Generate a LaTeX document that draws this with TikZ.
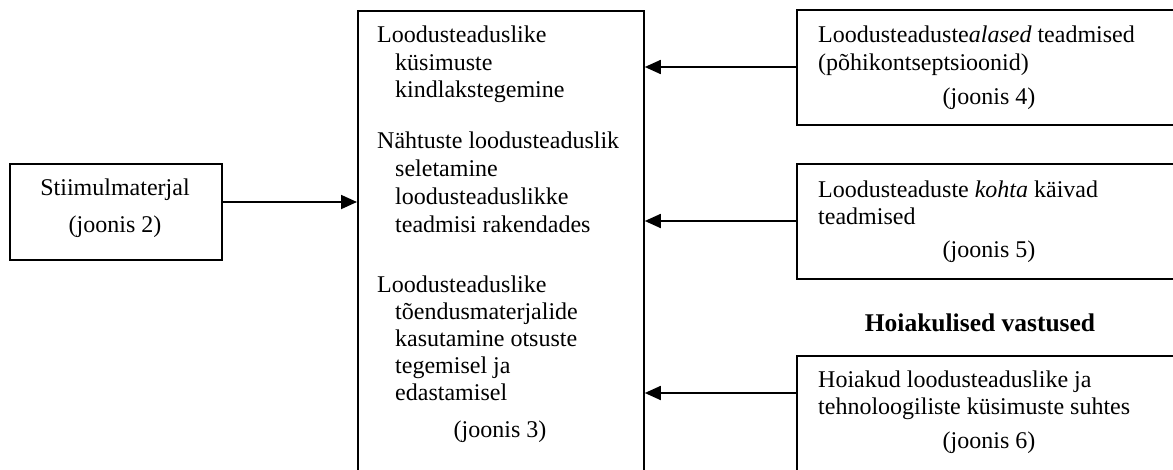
\documentclass[tikz,border=0pt]{standalone}
\usepackage{fontspec}
\setmainfont{Liberation Serif}
\usetikzlibrary{arrows.meta}
\tikzset{
  box/.style={draw, line width=1.8pt, rectangle, inner sep=0pt, anchor=north west},
  arr/.style={line width=1.8pt, -{Triangle[length=16pt,width=14pt]}},
  txt/.style={anchor=base west, inner sep=0pt, font=\fontsize{24}{28}\selectfont},
  ctxt/.style={anchor=base, inner sep=0pt, font=\fontsize{24}{28}\selectfont},
}
\begin{document}
\begin{tikzpicture}[x=1pt,y=-1pt]
\useasboundingbox (0,0) rectangle (1173,469);
\begin{scope}
\clip (0,0) rectangle (1173,469);
% boxes
\node[box, minimum width=212pt, minimum height=96pt] (lb) at (9,163) {};
\node[box, minimum width=286pt, minimum height=480pt] (cb) at (357,10) {};
\node[box, minimum width=400pt, minimum height=115pt] (rb1) at (796,9) {};
\node[box, minimum width=400pt, minimum height=115pt] (rb2) at (796,163) {};
\node[box, minimum width=400pt, minimum height=140pt] (rb3) at (796,355) {};
% anchor coordinates for connectors
\coordinate (y0) at (0,202);
\coordinate (y1) at (0,67);
\coordinate (y2) at (0,221);
\coordinate (y3) at (0,393);
\draw[arr] (lb.east |- y0) -- (cb.west |- y0);
\draw[arr] (rb1.west |- y1) -- (cb.east |- y1);
\draw[arr] (rb2.west |- y2) -- (cb.east |- y2);
\draw[arr] (rb3.west |- y3) -- (cb.east |- y3);
% left box text
\node[ctxt] (l1) at (115,195) {Stiimulmaterjal};
\node[ctxt] (l2) at (115,232) {(joonis 2)};
% center box text
\node[txt] (c1) at (377,42) {Loodusteaduslike};
\node[txt] (c2) at (395,70) {küsimuste};
\node[txt] (c3) at (395,97) {kindlakstegemine};
\node[txt] (c4) at (377,148) {Nähtuste loodusteaduslik};
\node[txt] (c5) at (395,176) {seletamine};
\node[txt] (c6) at (395,204) {loodusteaduslikke};
\node[txt] (c7) at (395,232) {teadmisi rakendades};
\node[txt] (c8) at (377,292) {Loodusteaduslike};
\node[txt] (c9) at (395,319) {tõendusmaterjalide};
\node[txt] (c10) at (395,346) {kasutamine otsuste};
\node[txt] (c11) at (395,373) {tegemisel ja};
\node[txt] (c12) at (395,400) {edastamisel};
\node[ctxt] (c13) at (500,437) {(joonis 3)};
% right box 1
\node[txt] (r11) at (818,42) {Loodusteaduste\textit{alased} teadmised};
\node[txt] (r12) at (818,70) {(põhikontseptsioonid)};
\node[ctxt] (r13) at (989,104) {(joonis 4)};
% right box 2
\node[txt] (r21) at (818,197) {Loodusteaduste \textit{kohta} käivad};
\node[txt] (r22) at (818,224) {teadmised};
\node[ctxt] (r23) at (989,257) {(joonis 5)};
% heading
\node[ctxt, font=\fontsize{25.5}{28}\selectfont\bfseries] (h) at (980,331) {Hoiakulised vastused};
% right box 3
\node[txt] (r31) at (818,387) {Hoiakud loodusteaduslike ja};
\node[txt] (r32) at (818,414) {tehnoloogiliste küsimuste suhtes};
\node[ctxt] (r33) at (989,448) {(joonis 6)};
\end{scope}
\end{tikzpicture}
\end{document}
